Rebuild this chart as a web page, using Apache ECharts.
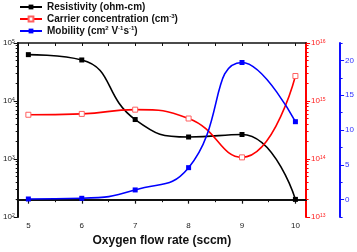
<!DOCTYPE html>
<html><head><meta charset="utf-8">
<script src="https://cdn.jsdelivr.net/npm/echarts@6/dist/echarts.min.js"></script>
<style>html,body{margin:0;padding:0;background:#fff}#c{width:357px;height:252px}</style>
</head><body><div id="c"></div>
<script>
const flowRates = [5, 6, 7, 8, 9, 10];
const resistivity = [6.3e4, 5.1e4, 4.8e3, 2.4e3, 2.65e3, 202];
const carrier = [5.8e14, 6.0e14, 7.1e14, 5.0e14, 1.07e14, 2.7e15];
const mobility = [0.1, 0.2, 1.4, 4.6, 19.7, 11.2];
const xTicks = [5, 6, 7, 8, 9, 10];
const xMinorTicks = [5.5, 6.5, 7.5, 8.5, 9.5];
const xTopTicks = [5, 5.5, 6, 6.5, 7, 7.5, 8, 8.5, 9, 9.5, 10];
const mobTicks = [0, 5, 10, 15, 20];
const mobMinorTicks = [-2.5, 2.5, 7.5, 12.5, 17.5, 22.5];
const names = ['Resistivity (ohm-cm)', 'Carrier concentration (cm-3)', 'Mobility (cm2 V-1s-1)'];
const legendRich = {
  'Resistivity (ohm-cm)': 'Resistivity (ohm-cm)',
  'Carrier concentration (cm-3)': 'Carrier concentration (cm{s|-3})',
  'Mobility (cm2 V-1s-1)': 'Mobility (cm{s|2} V{s|-1}s{s|-1})'
};
function decadeMinors(lo, hi) {
  const out = [];
  for (let d = lo; d < hi; d++) for (let k = 2; k <= 9; k++) out.push(k * Math.pow(10, d));
  return out;
}
const FONT = 'Arial, "Liberation Sans", sans-serif';
function powLabel(v) {
  const e = Math.round(Math.log10(v));
  return '{b|10}{s|' + e + '}';
}
function powRich(color) {
  return {
    b: {fontSize: 8, color: color, fontFamily: FONT},
    s: {fontSize: 5, color: color, fontFamily: FONT, verticalAlign: 'top', lineHeight: 8}
  };
}
const pair = (ys) => flowRates.map((x, i) => [x, ys[i]]);

const chart = echarts.init(document.getElementById('c'), null, {renderer: 'canvas'});
chart.setOption({
  animation: false,
  backgroundColor: '#fff',
  grid: {left: 17, right: 50, top: 43, bottom: 32, containLabel: false},
  legend: {
    orient: 'vertical', left: 14, top: -4, itemGap: 0, itemWidth: 22, itemHeight: 6,
    data: names,
    formatter: n => legendRich[n],
    textStyle: {
      fontSize: 10, fontWeight: 'bold', color: '#111', fontFamily: FONT, lineHeight: 12,
      rich: {s: {fontSize: 6, fontWeight: 'bold', verticalAlign: 'top', lineHeight: 8, fontFamily: FONT, color: '#111'}}
    }
  },
  xAxis: [
    {type: 'value', position: 'bottom', min: 4.8, max: 10.2,
     name: 'Oxygen flow rate (sccm)', nameLocation: 'middle', nameGap: 12,
     nameTextStyle: {fontSize: 12, fontWeight: 'bold', color: '#111', fontFamily: FONT},
     axisLine: {lineStyle: {color: '#111', width: 2}},
     axisTick: {customValues: xTicks, length: 4, inside: false, lineStyle: {color: '#111', width: 1.2}},
     axisLabel: {customValues: xTicks, fontSize: 8, color: '#222', margin: 5, fontFamily: FONT},
     splitLine: {show: false}},
    {type: 'value', position: 'bottom', min: 4.8, max: 10.2,
     axisLine: {show: false},
     axisTick: {customValues: xMinorTicks, length: 2.5, lineStyle: {color: '#111', width: 1}},
     axisLabel: {show: false}, splitLine: {show: false}},
    {type: 'value', position: 'top', min: 4.8, max: 10.2,
     axisLine: {lineStyle: {color: '#111', width: 1.5}},
     axisTick: {customValues: xTopTicks, length: 3, inside: true, lineStyle: {color: '#111', width: 1}},
     axisLabel: {show: false}, splitLine: {show: false}}
  ],
  yAxis: [
    {type: 'log', position: 'left', min: 100, max: 1e5, logBase: 10,
     axisLine: {show: true, lineStyle: {color: '#111', width: 2}},
     axisTick: {show: true, length: 4, lineStyle: {color: '#111', width: 1}},
     axisLabel: {formatter: powLabel, rich: powRich('#222'), margin: 3},
     splitLine: {show: false}},
    {type: 'log', position: 'left', min: 100, max: 1e5, logBase: 10,
     axisLine: {show: false},
     axisTick: {show: true, customValues: decadeMinors(2, 5), length: 2, lineStyle: {color: '#111', width: 1}},
     axisLabel: {show: false}, splitLine: {show: false}},
    {type: 'log', position: 'right', offset: 0, min: 1e13, max: 1e16, logBase: 10,
     axisLine: {show: true, lineStyle: {color: '#ff0000', width: 2}},
     axisTick: {show: true, length: 4, lineStyle: {color: '#ff0000', width: 1}},
     axisLabel: {formatter: powLabel, rich: powRich('#ff2020'), margin: 5},
     splitLine: {show: false}},
    {type: 'log', position: 'right', offset: 0, min: 1e13, max: 1e16, logBase: 10,
     axisLine: {show: false},
     axisTick: {show: true, customValues: decadeMinors(13, 16), length: 2.5, lineStyle: {color: '#ff0000', width: 1}},
     axisLabel: {show: false}, splitLine: {show: false}},
    {type: 'value', position: 'right', offset: 34, min: -2.5, max: 22.5,
     axisLine: {show: true, lineStyle: {color: '#1010ff', width: 2}},
     axisTick: {show: true, customValues: mobTicks, length: 4, lineStyle: {color: '#1010ff', width: 1}},
     axisLabel: {customValues: mobTicks, fontSize: 8, color: '#3030ff', margin: 5, fontFamily: FONT},
     splitLine: {show: false}},
    {type: 'value', position: 'right', offset: 34, min: -2.5, max: 22.5,
     axisLine: {show: false},
     axisTick: {show: true, customValues: mobMinorTicks, length: 2.5, lineStyle: {color: '#1010ff', width: 1}},
     axisLabel: {show: false}, splitLine: {show: false}}
  ],
  series: [
    {name: names[0], type: 'line', xAxisIndex: 0, yAxisIndex: 0, data: pair(resistivity),
     smooth: 0.5, symbol: 'rect', symbolSize: 5,
     lineStyle: {color: '#000', width: 1.6}, itemStyle: {color: '#000'}},
    {name: names[1], type: 'line', xAxisIndex: 0, yAxisIndex: 2, data: pair(carrier),
     smooth: 0.5, symbol: 'rect', symbolSize: 5,
     lineStyle: {color: '#ff0000', width: 1.6}, itemStyle: {color: '#fff', borderColor: '#ff6060', borderWidth: 1}},
    {name: names[2], type: 'line', xAxisIndex: 0, yAxisIndex: 4, data: pair(mobility),
     smooth: 0.5, symbol: 'rect', symbolSize: 5,
     lineStyle: {color: '#0000ff', width: 1.6}, itemStyle: {color: '#0000ff'}}
  ]
});
</script></body></html>
